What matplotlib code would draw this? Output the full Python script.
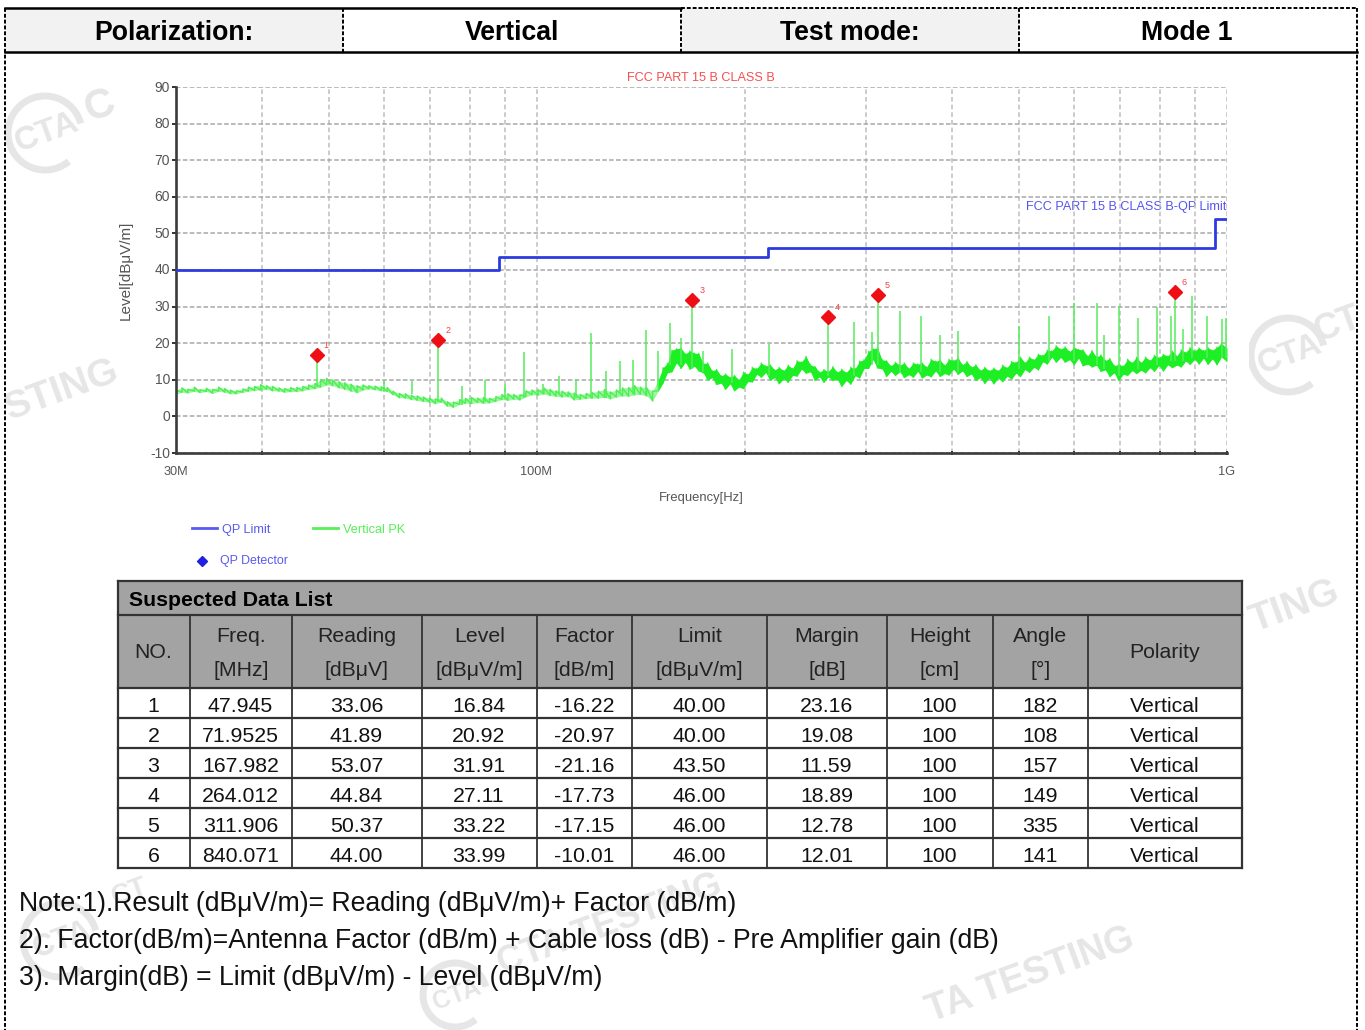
import numpy as np
import matplotlib
matplotlib.use("Agg")
import matplotlib.pyplot as plt
from matplotlib.patches import Arc, Rectangle

# --- limit line
limit_freq = [30, 88, 216, 960, 1000]
limit_level = [40, 43.5, 46, 54, 54]

trace_freq = [
    30, 30.6, 31.2, 31.9, 32.5, 33.2, 33.9, 34.6, 35.3, 36,
    36.7, 37.5, 38.2, 39, 39.8, 40.6, 41.4, 42.3, 43.1, 44,
    44.9, 45.8, 46.7, 47.7, 48.6, 49.6, 50.6, 51.7, 52.7, 53.8,
    54.9, 56, 57.1, 58.3, 59.5, 60.7, 61.9, 63.2, 64.5, 65.8,
    67.1, 68.5, 69.9, 71.3, 72.7, 74.2, 75.7, 77.3, 78.8, 80.4,
    82.1, 83.7, 85.4, 87.2, 89, 90.8, 92.6, 94.5, 96.4, 98.4,
    100.4, 102.4, 104.5, 106.6, 108.8, 111, 113.3, 115.6, 117.9, 120.3,
    122.8, 125.3, 127.8, 130.4, 133.1, 135.8, 138.5, 141.3, 144.2, 147.1,
    150, 152.3, 154.6, 156.9, 159.3, 161.7, 164.1, 166.6, 169.1, 171.6,
    174.2, 176.8, 179.4, 182.1, 184.9, 187.6, 190.5, 193.3, 196.2, 199.2,
    202.2, 205.2, 208.3, 211.4, 214.6, 217.8, 221.1, 224.4, 227.8, 231.2,
    234.7, 238.2, 241.8, 245.4, 249.1, 252.9, 256.7, 260.5, 264.4, 268.4,
    272.4, 276.5, 280.7, 284.9, 289.2, 293.5, 297.9, 302.4, 307, 311.6,
    316.3, 321, 325.8, 330.7, 335.7, 340.7, 345.9, 351.1, 356.3, 361.7,
    367.1, 372.6, 378.2, 383.9, 389.7, 395.5, 401.5, 407.5, 413.6, 419.8,
    426.1, 432.5, 439, 445.6, 452.3, 459.1, 466, 473, 480.1, 487.3,
    494.6, 502, 509.5, 517.2, 524.9, 532.8, 540.8, 548.9, 557.2, 565.5,
    574, 582.6, 591.4, 600.3, 609.3, 618.4, 627.7, 637.1, 646.7, 656.4,
    666.2, 676.2, 686.4, 696.7, 707.1, 717.7, 728.5, 739.4, 750.5, 761.8,
    773.2, 784.8, 796.6, 808.5, 820.6, 832.9, 845.4, 858.1, 871, 884,
    897.3, 910.8, 924.4, 938.3, 952.4, 966.7, 981.2, 1000,
]
trace_lo = [
    6.1, 6.6, 6.4, 6.9, 6.5, 6.8, 6.3, 6.9, 6.6, 6.2,
    6.2, 6.6, 6.9, 7.1, 7.2, 7.4, 7, 6.9, 6.6, 6.8,
    6.8, 7, 7.4, 7.6, 8, 8.6, 8.4, 7.8, 7.4, 6.9,
    6.5, 7.2, 7.5, 7.3, 7, 6.8, 5.9, 5.1, 5, 4.6,
    4.4, 4.1, 3.9, 3.5, 3.9, 2.8, 2.5, 3.3, 3.6, 3.5,
    3.8, 3.6, 3.7, 4.1, 4.6, 4.4, 4.7, 4.5, 5.4, 5.9,
    5.8, 6.1, 5.7, 5.5, 5.3, 5.4, 4.5, 4.7, 4.9, 5,
    5, 5.2, 4.8, 5.3, 5.6, 5.5, 5.9, 6, 5.6, 4.2,
    7, 9.1, 11.9, 12.2, 14.6, 13.1, 14.8, 12.9, 13.7, 12.4,
    11.9, 9.9, 10.6, 8.7, 9.1, 7.4, 8.9, 7, 8, 7.6,
    9.5, 9.4, 11.5, 10.7, 12, 9.9, 10.6, 8.9, 10.3, 9.3,
    11.2, 11, 12.9, 11.8, 12.2, 9.8, 10.8, 9.3, 10.8, 9.8,
    10.1, 8.2, 9.8, 8.8, 11.1, 10.5, 13.1, 13.1, 15.5, 13.2,
    13, 10.9, 12.3, 11.2, 12.2, 10.6, 11.4, 10.7, 12.3, 10.5,
    11.3, 10.8, 12.4, 10.9, 11.7, 11.3, 12.9, 11.5, 12.4, 10.9,
    11.6, 9.8, 10.6, 9, 10.5, 8.9, 10.4, 9.5, 11, 10.2,
    11.8, 10.9, 12.8, 12, 13.4, 12.7, 14.9, 14.3, 16.2, 14.8,
    16.1, 14.8, 15.5, 14.1, 15.9, 13.8, 14.3, 13.5, 14, 12.3,
    12.7, 10.9, 11.9, 9.8, 11.5, 11.2, 12.5, 11.7, 12.6, 11.9,
    13.3, 12.3, 13.9, 12.4, 14.1, 13.3, 14, 13.5, 15.1, 14.2,
    15.6, 14.3, 15.9, 14.2, 15.7, 14.1, 16.2, 15,
]
trace_hi = [
    7.2, 7.8, 7.4, 8, 7.3, 7.7, 7.4, 8, 7.6, 7.2,
    7, 7.5, 8, 8.2, 8.7, 8.4, 8.2, 7.8, 7.6, 7.9,
    7.9, 8.2, 8.6, 9, 10, 10.4, 9.9, 9.5, 9.2, 8.8,
    8.4, 8.6, 8.4, 8.3, 8.1, 7.9, 6.9, 6.3, 6.2, 5.8,
    5.6, 5.3, 5, 4.8, 5, 4, 3.9, 4.6, 4.9, 5.2,
    5, 5.2, 4.9, 5.4, 6, 6.2, 6, 5.9, 7, 7.2,
    7.3, 7.8, 7.4, 7, 6.9, 6.7, 6.4, 6, 6.3, 6.5,
    6.9, 7.4, 6.7, 7.2, 7.8, 7.9, 8.4, 8, 7.9, 6.9,
    10, 13.3, 14.5, 18.1, 18.5, 18.7, 17.1, 17.9, 17.3, 17.2,
    14.5, 14.6, 12.5, 12.8, 11.1, 11.6, 10.7, 11.2, 10, 12.1,
    11.5, 13.4, 13.1, 14.6, 13.8, 14.1, 12.7, 13.4, 12.5, 14,
    13.1, 15.2, 14.9, 16.4, 14.1, 13.6, 12.1, 12.8, 12.3, 13.6,
    12.1, 12.9, 12, 13.4, 13.1, 15.1, 15.5, 17.8, 18.5, 18.7,
    15.5, 15.2, 13.8, 14.8, 14, 14.6, 13.1, 14.6, 14.3, 14.6,
    13.5, 15.6, 15.1, 15.4, 14, 15.6, 15.3, 16, 14.1, 15,
    13.5, 14.1, 12.6, 13.4, 12.5, 13.2, 12.5, 14, 13.3, 15,
    14.8, 16.2, 14.7, 16.2, 15.5, 17, 16.7, 18.1, 17.9, 19.3,
    18.4, 19, 17.7, 18.9, 18.3, 18.2, 16.5, 18, 16.3, 16.8,
    15.3, 15.8, 13.9, 14.2, 13.8, 15.6, 14.7, 16.2, 14.7, 16.2,
    15.3, 16.7, 16, 17, 16.5, 17.9, 16.5, 18.2, 17.5, 18.8,
    17.9, 18.7, 18, 18.8, 18.1, 18.9, 20, 18.6,
]

# narrow spikes sticking out of the band
spike_freq = [48, 60, 66, 72, 77.9, 84.1, 90, 95.9, 101.9, 107.8,
              113.9, 119.9, 125.9, 131.9, 137.8, 143.7, 150, 156, 161.8, 168,
              174, 192, 216.8, 264, 288, 306, 312, 336, 360.8, 384,
              408, 499, 553, 600, 648, 663, 697, 744, 792, 829,
              840, 864, 889, 937, 985, 997]
spike_top = [16, 9.7, 9.7, 20, 8.4, 10, 8.8, 17.6, 8.8, 11,
             10.2, 22.7, 12.5, 15.2, 15.5, 23.5, 18, 25.6, 21.3, 31,
             18, 18.4, 19.7, 27, 25.8, 23, 32, 28.8, 27.4, 22.2,
             23.4, 24.7, 27.4, 31, 31, 22.2, 30.2, 27, 30, 27.4,
             33, 23.8, 32.9, 27.4, 26.5, 27]
spike_base = [8, 7, 6, 4, 3, 4, 5, 5, 6, 6,
              5, 5, 5, 6, 6, 6, 8, 14, 14, 13,
              12, 9, 11, 11, 11, 14, 14, 12, 12, 12,
              12, 13, 15, 15, 14, 13, 11, 13, 14, 15,
              15, 15, 16, 16, 16, 16]

# --- table (markers use the same freq and level columns)
no_col = ["1", "2", "3", "4", "5", "6"]
freq_col = ["47.945", "71.9525", "167.982", "264.012", "311.906", "840.071"]
reading_col = ["33.06", "41.89", "53.07", "44.84", "50.37", "44.00"]
level_col = ["16.84", "20.92", "31.91", "27.11", "33.22", "33.99"]
factor_col = ["-16.22", "-20.97", "-21.16", "-17.73", "-17.15", "-10.01"]
limit_col = ["40.00", "40.00", "43.50", "46.00", "46.00", "46.00"]
margin_col = ["23.16", "19.08", "11.59", "18.89", "12.78", "12.01"]
height_col = ["100", "100", "100", "100", "100", "100"]
angle_col = ["182", "108", "157", "149", "335", "141"]
polarity_col = ["Vertical"] * 6
header_top = ["Freq.", "Reading", "Level", "Factor", "Limit", "Margin", "Height", "Angle"]
header_bot = ["[MHz]", "[dBμV]", "[dBμV/m]", "[dB/m]", "[dBμV/m]", "[dB]", "[cm]", "[°]"]

notes = ["Note:1).Result (dBμV/m)= Reading (dBμV/m)+ Factor (dB/m)",
         "2). Factor(dB/m)=Antenna Factor (dB/m) + Cable loss (dB) - Pre Amplifier gain (dB)",
         "3). Margin(dB) = Limit (dBμV/m) - Level (dBμV/m)"]

W, H = 1365, 1030
plt.rcParams['font.family'] = ['Liberation Sans', 'DejaVu Sans']
TICK = '#555555'
WM = '#e6e6e6'

fig = plt.figure(figsize=(W/100, H/100), dpi=100)
page = fig.add_axes([0, 0, 1, 1])
page.set_xlim(0, W)
page.set_ylim(H, 0)
page.axis('off')


def logo(cx, cy, r, size=24, clip=None):
    # faded company stamp behind the page
    ring = page.add_patch(Arc((cx, cy), 2*r, 2*r, theta1=-310, theta2=-15, color=WM, lw=5))
    t = page.text(cx+2, cy, "CTA", fontsize=size, fontweight='bold', color=WM, rotation=20,
                  ha='center', va='center')
    if clip:
        box = Rectangle((clip[0], clip[1]), clip[2], clip[3], transform=page.transData)
        ring.set_clip_path(box)
        t.set_clip_path(box)
        t.set_clip_on(True)


def mark(x, y, s, size=33):
    page.text(x, y, s, fontsize=size, fontweight='bold', color=WM, rotation=20,
              ha='center', va='center')


logo(45, 133, 37)
mark(100, 107, "C", 30)
mark(62, 390, "STING", 28)
logo(1288, 355, 37, clip=(1249, 280, 100, 150))
mark(1338, 325, "CT", 26)
mark(1295, 607, "TING", 28)
logo(60, 940, 37, size=22)
mark(130, 892, "CT", 20)
mark(610, 925, "CTA TESTING", 26)
logo(455, 995, 32, size=18)
mark(1030, 975, "TA TESTING", 27)

# --- header strip
edges = [5, 343, 681, 1019, 1357]
for i in [0, 2]:
    page.add_patch(Rectangle((edges[i], 8), edges[i+1]-edges[i], 44, fc='#f2f2f2', ec='none', zorder=1))
for x in edges[1:4]:
    page.plot([x, x], [8, 52], color='k', lw=1.4, ls=(0, (2, 1)), zorder=3)
page.plot([5, 681], [8, 8], color='k', lw=1.8, zorder=3)
page.plot([681, 1357], [8, 8], color='k', lw=1.4, ls=(0, (2, 1)), zorder=3)
page.plot([5, 1357], [52, 52], color='k', lw=1.8, zorder=3)
page.plot([5, 5], [8, H], color='k', lw=1.4, ls=(0, (2, 1)), zorder=3)
page.plot([1357, 1357], [8, H], color='k', lw=1.4, ls=(0, (2, 1)), zorder=3)
for cx, s in zip([174, 512, 850, 1187], ["Polarization:", "Vertical", "Test mode:", "Mode 1"]):
    page.text(cx, 33, s, fontsize=19.2, fontweight='bold', ha='center', va='center', zorder=4)

# --- chart
x0, x1, y0, y1 = 176, 1227, 87, 453
ax = fig.add_axes([x0/W, 1-y1/H, (x1-x0)/W, (y1-y0)/H], facecolor='none')
ax.set_xscale('log')
ax.set_xlim(30, 1000)
ax.set_ylim(-10, 90)
ax.set_xticks([40, 50, 60, 70, 80, 90, 100, 200, 300, 400, 500, 600, 700, 800, 900, 1000])
ax.set_xticks([], minor=True)
ax.set_yticks(np.arange(-10, 91, 10))
ax.set_xticklabels([])
ax.set_yticklabels([])
ax.grid(axis='x', color='#bdbdbd', lw=1.1, ls=(0, (3, 2)))
ax.grid(axis='y', color='#a8a8a8', lw=1.1, ls=(0, (3, 1.5)))
ax.set_axisbelow(True)
ax.tick_params(axis='both', which='major', length=3, width=1.4, color='#333333', direction='out')
ax.tick_params(axis='x', length=3, direction='inout')
for side in ['left', 'bottom']:
    ax.spines[side].set_linewidth(1.9)
    ax.spines[side].set_color('#3c3c3c')
for side in ['top', 'right']:
    ax.spines[side].set_visible(False)

zig_x = np.repeat(trace_freq, 2)
zig_y = np.column_stack([trace_lo, trace_hi]).ravel()
ax.plot(zig_x, zig_y, color='#4cf052', lw=1.0, zorder=2)
# below 150 MHz the trace is thin and soft, above it looks solid
ax.fill_between(trace_freq[:81], trace_lo[:81], trace_hi[:81], color='#4cf052', alpha=0.55, lw=0, zorder=2)
ax.fill_between(trace_freq[80:], trace_lo[80:], trace_hi[80:], color='#1cf024', lw=0, zorder=2)
ax.vlines(spike_freq, spike_base, spike_top, color='#55ee5c', lw=1.1, zorder=2)
ax.step(limit_freq, limit_level, where='post', color='#2b3be0', lw=2, zorder=3)

marker_freq = [float(v) for v in freq_col]
marker_level = [float(v) for v in level_col]
ax.plot(marker_freq, marker_level, ls='none', marker='D', ms=7, color='#ee0f14', zorder=4)
for f, v, n in zip(marker_freq, marker_level, no_col):
    ax.annotate(n, (f, v), xytext=(5, 5), textcoords='offset points', fontsize=6.5, color='#f04545', zorder=5)

# chart texts in page pixels
for v in range(-10, 91, 10):
    page.text(170, y1-(v+10)*3.66+0.5, str(v), fontsize=10, color=TICK, ha='right', va='center')
for s, x in zip(["30M", "100M", "1G"], [176, 536, 1227]):
    page.text(x, 472, s, fontsize=9.2, color=TICK, ha='center', va='center')
page.text(701, 498, "Frequency[Hz]", fontsize=9.4, color=TICK, ha='center', va='center')
page.text(126, 270, "Level[dBμV/m]", fontsize=11, color=TICK, rotation=90, ha='center', va='center')
page.text(701, 78, "FCC PART 15 B CLASS B", fontsize=9.1, color='#f45050', ha='center', va='center')
page.text(1226, 207, "FCC PART 15 B CLASS B-QP Limit", fontsize=9.1, color='#5555ee', ha='right', va='center')

# legend
page.plot([192, 217], [528, 528], color='#5a5af0', lw=2)
page.text(222, 530, "QP Limit", fontsize=9.1, color='#5a5af0', va='center')
page.plot([313, 338], [528, 528], color='#55f05a', lw=2)
page.text(343, 530, "Vertical PK", fontsize=9.2, color='#55f05a', va='center')
page.plot([202], [561], marker='D', ms=5.5, color='#2020e0')
page.text(220, 561, "QP Detector", fontsize=8.9, color='#5a5af0', va='center')

# --- table
tx = [118, 190, 292, 422, 537, 632, 767, 887, 993, 1088, 1242]
ty = [688, 718, 748, 778, 808, 838, 868]
GRAY = '#a3a3a3'
LINE = '#333333'
page.add_patch(Rectangle((tx[0], 581), tx[-1]-tx[0], 107, fc=GRAY, ec='none', zorder=1))
page.add_patch(Rectangle((tx[0], 688), tx[-1]-tx[0], 180, fc='white', ec='none', zorder=1))
for y in [581, 615] + ty:
    page.plot([tx[0], tx[-1]], [y, y], color=LINE, lw=1.6, zorder=3)
for x in tx[1:-1]:
    page.plot([x, x], [615, 868], color=LINE, lw=1.3, zorder=3)
for x in [tx[0], tx[-1]]:
    page.plot([x, x], [581, 868], color=LINE, lw=1.6, zorder=3)

FS = 15.3
centers = [(tx[i]+tx[i+1])/2 for i in range(len(tx)-1)]
page.text(129, 601, "Suspected Data List", fontsize=FS, fontweight='bold', va='center', zorder=4)
page.text(centers[0]-1, 653, "NO.", fontsize=FS, color='#222222', ha='center', va='center', zorder=4)
page.text(centers[-1], 653, "Polarity", fontsize=FS, color='#222222', ha='center', va='center', zorder=4)
for i in range(8):
    page.text(centers[i+1], 637, header_top[i], fontsize=FS, color='#222222', ha='center', va='center', zorder=4)
    page.text(centers[i+1], 670, header_bot[i], fontsize=FS, color='#222222', ha='center', va='center', zorder=4)
columns = [no_col, freq_col, reading_col, level_col, factor_col, limit_col, margin_col,
           height_col, angle_col, polarity_col]
row_y = [706.5, 737, 767, 797, 827, 857]
for c, col in enumerate(columns):
    for r, s in enumerate(col):
        page.text(centers[c]-0.5, row_y[r], s, fontsize=FS, color='#111111', ha='center', va='center', zorder=4)

for s, y in zip(notes, [904, 941, 978]):
    page.text(19, y, s, fontsize=19.2, color='#111111', va='center', zorder=4)

fig.savefig("out.png", dpi=100)
